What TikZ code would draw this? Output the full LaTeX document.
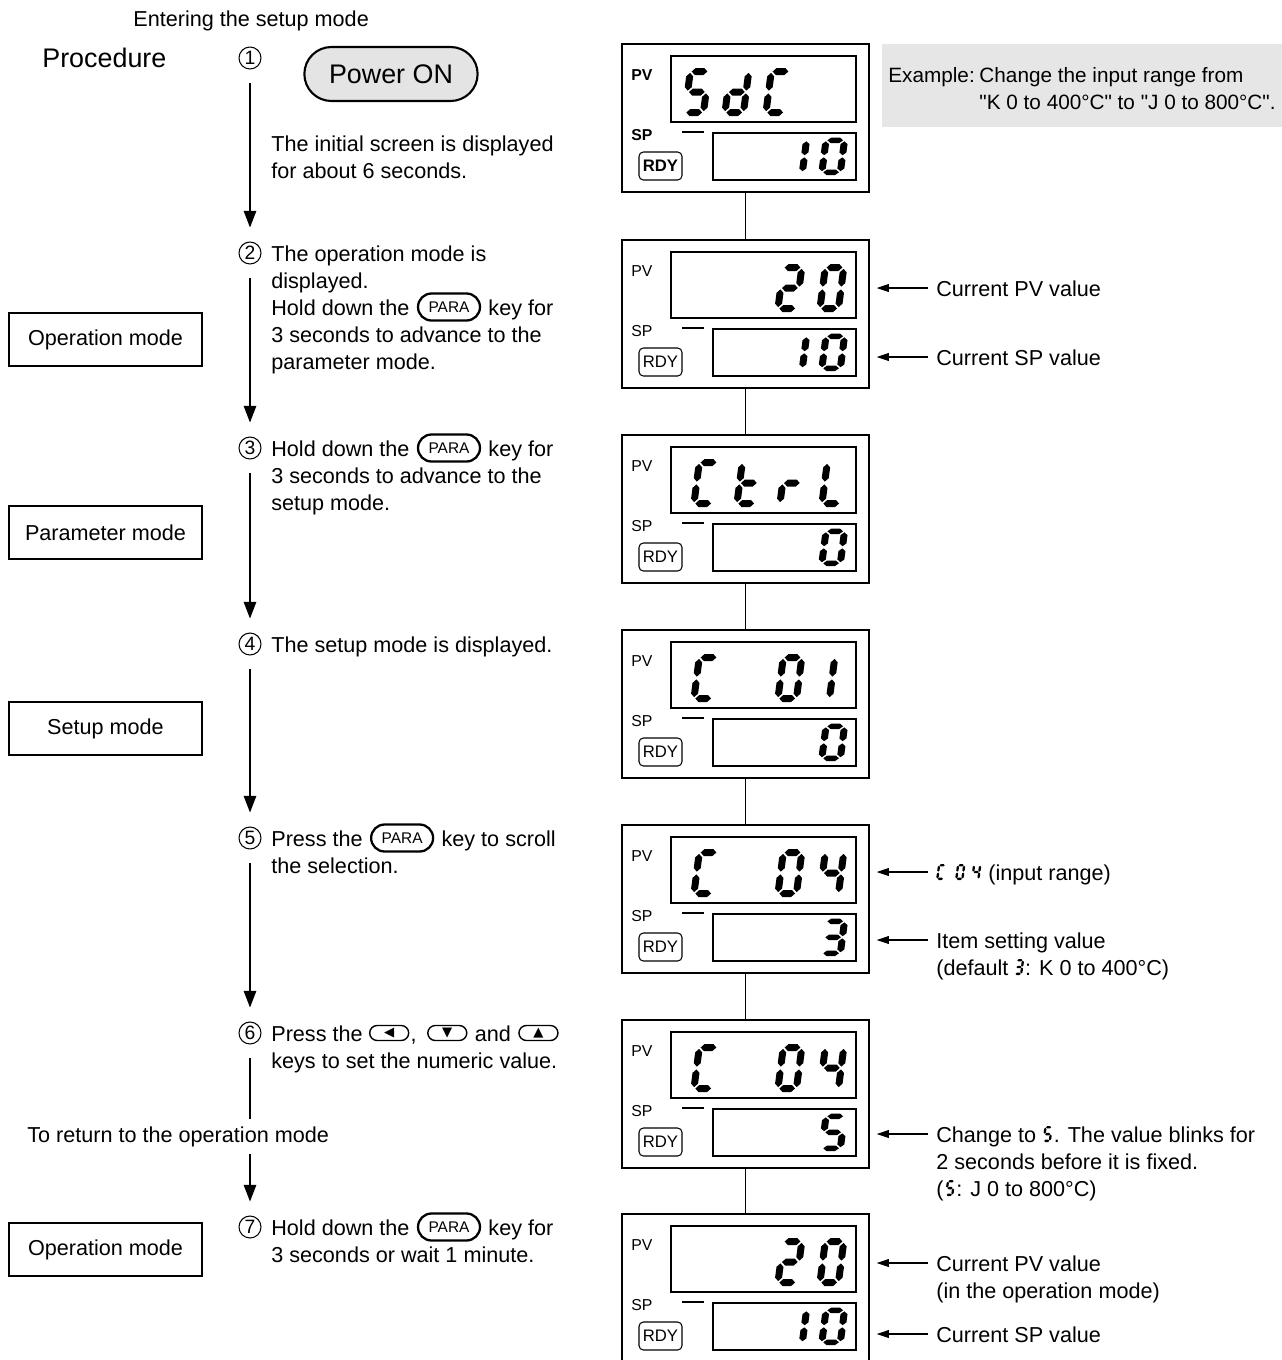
\documentclass[tikz,border=0pt]{standalone}
\usepackage{fontspec}
\setmainfont{Liberation Sans}
\newfontfamily\keyfont{DejaVu Sans}
\usetikzlibrary{arrows.meta,positioning,calc,shapes.misc}
\definecolor{ExGray}{RGB}{230,230,230}
\definecolor{KeyGray}{RGB}{228,228,228}

% seven-segment pieces (local units, a digit is 48 high)
\newcommand\hseg[1]{\fill (4.9,#1) -- (8.4,{#1+3.5}) -- (17.1,{#1+3.5}) -- (20.6,#1) -- (17.1,{#1-3.5}) -- (8.4,{#1-3.5}) -- cycle;}
\newcommand\vseg[3]{\fill (#1,#2) -- ({#1+3.5},{#2+3.5}) -- ({#1+3.5},{#3-3.5}) -- (#1,#3) -- ({#1-3.5},{#3-3.5}) -- ({#1-3.5},{#2+3.5}) -- cycle;}
\newcommand\sga{\hseg{44.5}}
\newcommand\sgg{\hseg{24}}
\newcommand\sgd{\hseg{3.5}}
\newcommand\sgf{\vseg{3.5}{25.4}{43.1}}
\newcommand\sgb{\vseg{22}{25.4}{43.1}}
\newcommand\sge{\vseg{3.5}{4.9}{22.6}}
\newcommand\sgc{\vseg{22}{4.9}{22.6}}
\newcommand\sdig[3][]{%
  \begin{scope}[shift={#2},y=0.02cm,xslant=0.13,#1]
    \foreach \s in {#3} {\csname sg\s\endcsname}
  \end{scope}}

\begin{document}
\begin{tikzpicture}[x=0.02cm,y=-0.02cm,
  txt/.style={font=\fontsize{12.3}{15}\selectfont,inner sep=0pt,anchor=base west},
  stepno/.style={circle,draw,line width=0.6pt,minimum size=0.44cm,inner sep=0pt,
                 font=\fontsize{11}{12}\selectfont},
  flow/.style={-{Triangle[length=9.5pt,width=7pt]},line width=1.1pt,
               shorten <=7.9pt,shorten >=7.9pt},
  modebox/.style={draw,line width=0.7pt,minimum width=3.86cm,minimum height=1.06cm,
                  font=\fontsize{12.3}{15}\selectfont},
  power/.style={rounded rectangle,draw,line width=1.2pt,fill=KeyGray,
                minimum width=3.7cm,minimum height=1.08cm,font=\fontsize{15.3}{18}\selectfont},
  parakey/.style={rounded rectangle,draw,line width=1.3pt,minimum width=1.24cm,
                  minimum height=0.54cm,inner sep=0pt,font=\fontsize{8.8}{9}\selectfont},
  arrkey/.style={rounded rectangle,draw,line width=0.8pt,minimum width=0.78cm,
                 minimum height=0.3cm,inner sep=0pt,font=\keyfont\fontsize{7.5}{7.5}\selectfont},
  panel/.style={draw,line width=0.8pt,minimum width=4.94cm,minimum height=2.96cm},
  lcd/.style={draw,line width=0.7pt},
  lbl/.style={font=\fontsize{9}{10}\selectfont,inner sep=0pt,anchor=west},
  rdy/.style={draw,rounded corners=2.5pt,line width=0.6pt,minimum width=0.86cm,
              minimum height=0.56cm,inner sep=0pt,font=\fontsize{9.5}{10}\selectfont},
  note/.style={-{Triangle[length=7pt,width=4.5pt]},line width=0.6pt},
]
\useasboundingbox (0,0) rectangle (1282,1360);

% procedure column
\node[txt] (entr) at (133,26) {Entering the setup mode};
\node[txt,font=\fontsize{15.3}{18}\selectfont] (proc) at (42,67) {Procedure};
\node[stepno] (s1) at (250,58) {1};
\node[power] (pwr) at (391,74) {Power ON};
\node[txt] (t1a) at (271,151) {The initial screen is displayed};
\node[txt] (t1b) at (271,178) {for about 6 seconds.};

\node[stepno] (s2) at (250,253) {2};
\node[txt] (t2a) at (271,261) {The operation mode is};
\node[txt] (t2b) at (271,288) {displayed.};
\node[txt] (t2c) at (271,315) {Hold down the};
\node[parakey,anchor=west] (k2) at ($(t2c.base east)+(7,-8)$) {PARA};
\node[txt] (t2d) at ($(k2.east |- t2c.base)+(7,0)$) {key for};
\node[txt] (t2e) at (271,342) {3 seconds to advance to the};
\node[txt] (t2f) at (271,369) {parameter mode.};

\node[stepno] (s3) at (250,448) {3};
\node[txt] (t3a) at (271,456) {Hold down the};
\node[parakey,anchor=west] (k3) at ($(t3a.base east)+(7,-8)$) {PARA};
\node[txt] (t3b) at ($(k3.east |- t3a.base)+(7,0)$) {key for};
\node[txt] (t3c) at (271,483) {3 seconds to advance to the};
\node[txt] (t3d) at (271,510) {setup mode.};

\node[stepno] (s4) at (250,644) {4};
\node[txt] (t4a) at (271,652) {The setup mode is displayed.};

\node[stepno] (s5) at (250,838) {5};
\node[txt] (t5a) at (271,846) {Press the};
\node[parakey,anchor=west] (k5) at ($(t5a.base east)+(7,-8)$) {PARA};
\node[txt] (t5b) at ($(k5.east |- t5a.base)+(7,0)$) {key to scroll};
\node[txt] (t5c) at (271,873) {the selection.};

\node[stepno] (s6) at (250,1033) {6};
\node[txt] (t6a) at (271,1041) {Press the};
\node[arrkey,anchor=west] (kl) at ($(t6a.base east)+(6,-8)$) {◀};
\node[txt] (t6b) at ($(kl.east |- t6a.base)+(1,0)$) {,};
\node[arrkey,anchor=west] (kd) at ($(t6b.base east)+(10,-8)$) {▼};
\node[txt] (t6c) at ($(kd.east |- t6a.base)+(7,0)$) {and};
\node[arrkey,anchor=west] (ku) at ($(t6c.base east)+(7,-8)$) {▲};
\node[txt] (t6d) at (271,1068) {keys to set the numeric value.};

\node[stepno] (s7) at (250,1227) {7};
\node[txt] (t7a) at (271,1235) {Hold down the};
\node[parakey,anchor=west] (k7) at ($(t7a.base east)+(7,-8)$) {PARA};
\node[txt] (t7b) at ($(k7.east |- t7a.base)+(7,0)$) {key for};
\node[txt] (t7c) at (271,1262) {3 seconds or wait 1 minute.};

\draw[flow] (s1) -- (s2);
\draw[flow] (s2) -- (s3);
\draw[flow] (s3) -- (s4);
\draw[flow] (s4) -- (s5);
\draw[flow] (s5) -- (s6);
\draw[flow] (s6) -- (s7);
\node[txt,fill=white,inner ysep=4pt] (ret) at (27,1142) {To return to the operation mode};

% mode boxes
\node[modebox] (om1) at (105.5,339.5) {Operation mode};
\node[modebox] (pm) at (105.5,532.5) {Parameter mode};
\node[modebox] (sm) at (105.5,728.5) {Setup mode};
\node[modebox] (om2) at (105.5,1249.5) {Operation mode};

% controller panels
\foreach \y [count=\i] in {44,240,435,630,825,1020,1214} {
  \node[panel] (p\i) at (745.5,\y+74) {};
  \node[lcd,minimum width=3.7cm,minimum height=1.32cm] (pv\i) at (763.5,\y+45) {};
  \node[lcd,minimum width=2.86cm,minimum height=0.94cm] (sp\i) at (784.5,\y+112.5) {};
  \node[lbl] at (631,\y+31) {\ifnum\i=1 \bfseries\fi PV};
  \node[lbl] at (631,\y+91) {\ifnum\i=1 \bfseries\fi SP};
  \draw[line width=0.6pt] (682,\y+88) -- (704,\y+88);
  \node[rdy] (r\i) at (660.5,\y+122) {\ifnum\i=1 \bfseries\fi RDY};
}
\foreach \i/\j in {1/2,2/3,3/4,4/5,5/6,6/7}
  \draw[line width=0.6pt] (p\i.south) -- (p\j.north);

% panel readings
\sdig{(681,116)}{a,f,g,c,d}
\sdig{(721,116)}{b,c,d,e,g}
\sdig{(762,116)}{a,f,e,d}
\sdig[yscale=0.78]{(780,175)}{b,c}
\sdig[yscale=0.78]{(818,175)}{a,b,c,d,e,f}

\sdig{(774,312)}{a,b,g,e,d}
\sdig{(816,312)}{a,b,c,d,e,f}
\sdig[yscale=0.78]{(780,371)}{b,c}
\sdig[yscale=0.78]{(818,371)}{a,b,c,d,e,f}

\sdig{(690,507)}{a,f,e,d}
\sdig{(733,507)}{f,e,d,g}
\sdig{(776,507)}{e,g}
\sdig{(818,507)}{f,e,d}
\sdig[yscale=0.78]{(818,566)}{a,b,c,d,e,f}

\sdig{(690,702)}{a,f,e,d}
\sdig{(774,702)}{a,b,c,d,e,f}
\sdig{(807,702)}{b,c}
\sdig[yscale=0.78]{(818,761)}{a,b,c,d,e,f}

\sdig{(690,897)}{a,f,e,d}
\sdig{(774,897)}{a,b,c,d,e,f}
\sdig{(816,897)}{f,g,b,c}
\sdig[yscale=0.78]{(818,956)}{a,b,g,c,d}

\sdig{(690,1092)}{a,f,e,d}
\sdig{(774,1092)}{a,b,c,d,e,f}
\sdig{(816,1092)}{f,g,b,c}
\sdig[yscale=0.78]{(818,1151)}{a,f,g,c,d}

\sdig{(774,1286)}{a,b,g,e,d}
\sdig{(816,1286)}{a,b,c,d,e,f}
\sdig[yscale=0.78]{(780,1345)}{b,c}
\sdig[yscale=0.78]{(818,1345)}{a,b,c,d,e,f}

% example
\node[fill=ExGray,inner sep=0pt,minimum width=8cm,minimum height=1.66cm,anchor=north west] (exbox) at (882,44) {};
\node[txt,font=\fontsize{11.8}{14}\selectfont] (ex1) at (888,82) {Example:};
\node[txt,font=\fontsize{11.8}{14}\selectfont] (ex2) at ($(ex1.base east)+(4,0)$) {Change the input range from};
\node[txt,font=\fontsize{11.8}{14}\selectfont] (ex3) at ($(ex2.base west)+(0,27)$)
  {\textquotedbl K 0 to 400°C\textquotedbl{} to \textquotedbl J 0 to 800°C\textquotedbl.};

% notes on the right
\node[txt] (cpv2) at (936,296) {Current PV value};
\node[txt] (csp2) at (936,365) {Current SP value};
\draw[note] ($(cpv2.base west)+(-8,-8)$) -- ($(p2.east |- cpv2.base)+(7,-8)$);
\draw[note] ($(csp2.base west)+(-8,-8)$) -- ($(p2.east |- csp2.base)+(7,-8)$);

\coordinate (cr5) at (936,880);
\sdig[scale=0.33]{(cr5)}{a,f,e,d}
\sdig[scale=0.33]{(955,880)}{a,b,c,d,e,f}
\sdig[scale=0.33]{(971,880)}{f,g,b,c}
\node[txt] (rng5) at (988,880) {(input range)};
\draw[note] ($(cr5)+(-8,-8)$) -- ($(p5.east |- cr5)+(7,-8)$);
\node[txt] (isv5) at (936,948) {Item setting value};
\node[txt] (df5) at (936,975) {(default};
\sdig[scale=0.33]{($(df5.base east)+(5,0)$)}{a,b,g,c,d}
\node[txt] (df5b) at ($(df5.base east)+(16,0)$) {: K 0 to 400°C)};
\draw[note] ($(isv5.base west)+(-8,-8)$) -- ($(p5.east |- isv5.base)+(7,-8)$);

\node[txt] (chg6) at (936,1142) {Change to};
\sdig[scale=0.33]{($(chg6.base east)+(6,0)$)}{a,f,g,c,d}
\node[txt] (chg6b) at ($(chg6.base east)+(17,0)$) {. The value blinks for};
\node[txt] (chg6c) at (936,1169) {2 seconds before it is fixed.};
\node[txt] (jr6) at (936,1196) {(};
\sdig[scale=0.33]{($(jr6.base east)+(1,0)$)}{a,f,g,c,d}
\node[txt] (jr6b) at ($(jr6.base east)+(12,0)$) {: J 0 to 800°C)};
\draw[note] ($(chg6.base west)+(-8,-8)$) -- ($(p6.east |- chg6.base)+(7,-8)$);

\node[txt] (cpv7) at (936,1271) {Current PV value};
\node[txt] (opm7) at (936,1298) {(in the operation mode)};
\node[txt] (csp7) at (936,1342) {Current SP value};
\draw[note] ($(cpv7.base west)+(-8,-8)$) -- ($(p7.east |- cpv7.base)+(7,-8)$);
\draw[note] ($(csp7.base west)+(-8,-8)$) -- ($(p7.east |- csp7.base)+(7,-8)$);
\end{tikzpicture}
\end{document}
